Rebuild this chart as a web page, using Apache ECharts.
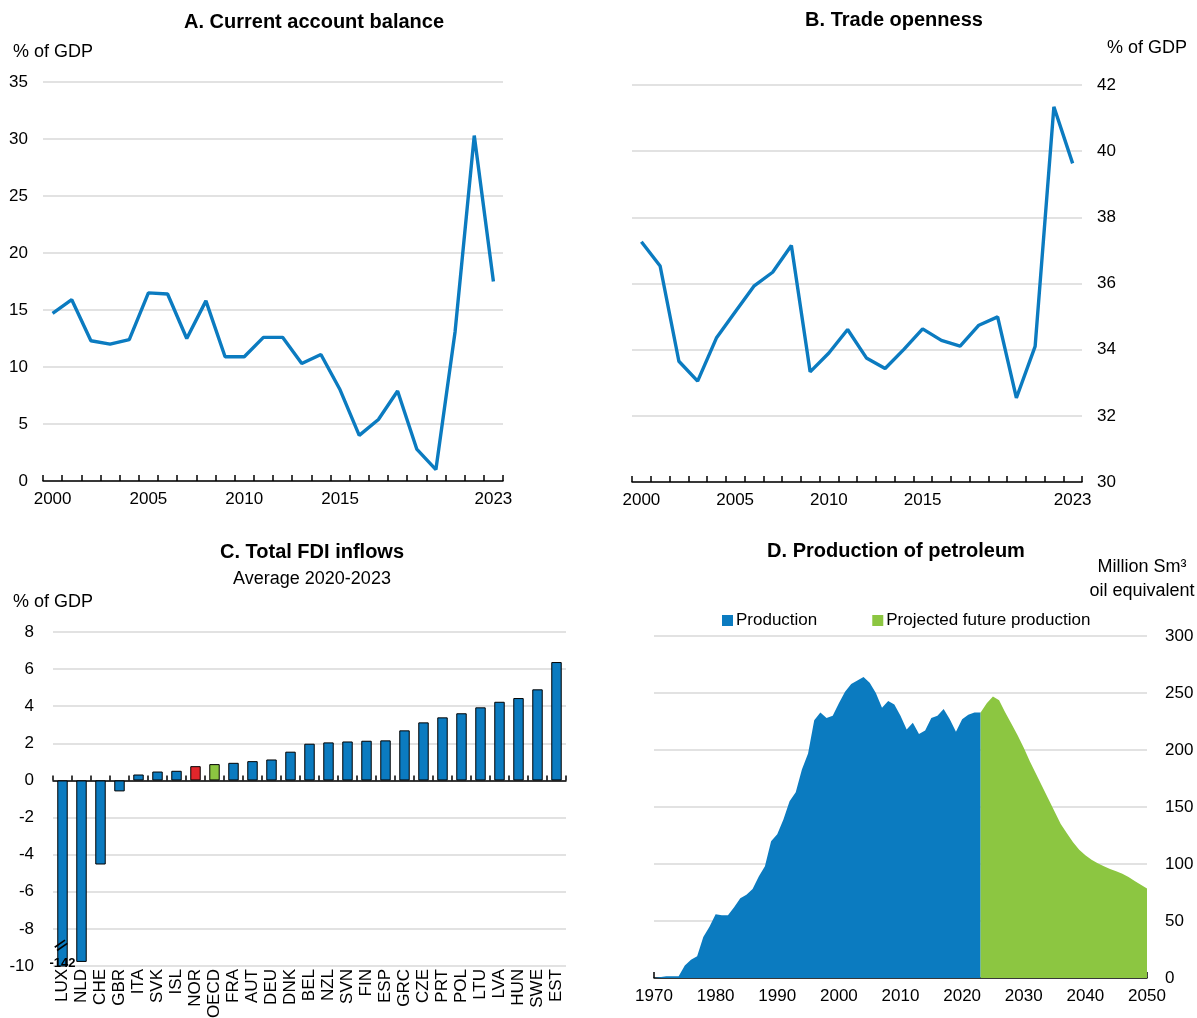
<!DOCTYPE html>
<html>
<head>
<meta charset="utf-8">
<script src="https://cdn.jsdelivr.net/npm/echarts@6/dist/echarts.min.js"></script>
<style>
  html, body { margin: 0; padding: 0; background: #fff; }
  #chart { width: 1197px; height: 1018px; }
</style>
</head>
<body>
<div id="chart"></div>
<script>
// ---- Panel A: current account balance, % of GDP ----
const yearsAB = ['2000','2001','2002','2003','2004','2005','2006','2007','2008','2009','2010','2011',
                 '2012','2013','2014','2015','2016','2017','2018','2019','2020','2021','2022','2023'];
const yearTicksAB = ['2000','2005','2010','2015','2023'];
const currentAccount = [14.7, 15.9, 12.3, 12.0, 12.4, 16.5, 16.4, 12.5, 15.8, 10.9, 10.9, 12.6,
                        12.6, 10.3, 11.1, 8.0, 4.0, 5.4, 7.9, 2.8, 1.0, 13.1, 30.3, 17.5];

// ---- Panel B: trade openness, % of GDP ----
const tradeOpenness = [37.26, 36.53, 33.65, 33.05, 34.35, 35.14, 35.92, 36.34, 37.15, 33.33, 33.90, 34.61,
                       33.75, 33.43, 34.01, 34.63, 34.28, 34.11, 34.74, 34.99, 32.54, 34.10, 41.34, 39.63];

// ---- Panel C: total FDI inflows, average 2020-2023, % of GDP ----
const fdiCountries = ['LUX','NLD','CHE','GBR','ITA','SVK','ISL','NOR','OECD','FRA','AUT','DEU','DNK','BEL','NZL',
                      'SVN','FIN','ESP','GRC','CZE','PRT','POL','LTU','LVA','HUN','SWE','EST'];
const fdiValues = [-142, -9.78, -4.53, -0.59, 0.32, 0.48, 0.52, 0.77, 0.88, 0.95, 1.04, 1.13, 1.55, 1.98, 2.05,
                   2.10, 2.14, 2.16, 2.70, 3.13, 3.40, 3.62, 3.94, 4.24, 4.44, 4.91, 6.38];

// ---- Panel D: production of petroleum, million Sm3 oil equivalent ----
const prodYears = [1970,1972,1974,1975,1976,1977,1978,1979,1980,1981,1982,1983,1984,1985,1986,1987,1988,1989,
                   1990,1991,1992,1993,1994,1995,1996,1997,1998,1999,2000,2001,2002,2003,2004,2005,2006,2007,
                   2008,2009,2010,2011,2012,2013,2014,2015,2016,2017,2018,2019,2020,2021,2022,2023];
const prodValues = [0, 1.5, 1.5, 11, 16, 19, 36, 45, 56, 55, 55, 62, 70, 73, 78, 89, 98, 120,
                    126, 139, 155, 163, 183, 197, 226, 233, 228, 230, 241, 251, 258, 261, 264, 259, 250, 237,
                    243, 240, 230, 218, 224, 214, 217, 228, 230, 236, 227, 216, 227, 231, 233, 233];
const projYears = [2023,2024,2025,2026,2027,2028,2029,2030,2031,2032,2033,2034,2035,2036,2037,2038,2039,
                   2040,2041,2042,2043,2044,2045,2046,2047,2048,2049,2050];
const projValues = [233, 241, 247, 243.6, 233, 223, 213, 202, 190, 179, 168, 157, 146, 135, 127, 119, 112.6,
                    107.6, 103.8, 100.6, 98, 95.6, 93.6, 91.5, 88.6, 85, 81.9, 78.4];

const FONT = "'Liberation Sans', Arial, sans-serif";
const BLUE = '#0b7bc0';
const GREEN = '#8cc641';
const RED = '#e2262b';
const GRID_GRAY = '#d9d9d9';
const tick = { fontFamily: FONT, fontSize: 17, color: '#000' };
const unit = { fontFamily: FONT, fontSize: 18, color: '#000' };
const titleStyle = { fontFamily: FONT, fontSize: 20, fontWeight: 'bold', color: '#000' };

const pairs = (xs, ys) => xs.map((x, i) => [x, ys[i]]);

const chart = echarts.init(document.getElementById('chart'), null, { renderer: 'canvas' });

const catXAxis = (gridIndex) => ({
  type: 'category', gridIndex, data: yearsAB, boundaryGap: true,
  axisLine: { lineStyle: { color: '#000', width: 1.5 } },
  axisTick: { show: true, inside: true, length: 6, interval: 0, lineStyle: { color: '#000', width: 1.5 } },
  axisLabel: { ...tick, margin: 10, interval: (i, v) => yearTicksAB.includes(v) },
  splitLine: { show: false }
});

const option = {
  animation: false,
  backgroundColor: '#fff',
  textStyle: { fontFamily: FONT },
  title: [
    { text: 'A. Current account balance', left: 309, top: 7, textAlign: 'center', textStyle: titleStyle },
    { text: 'B. Trade openness', left: 889, top: 5, textAlign: 'center', textStyle: titleStyle },
    { text: 'C. Total FDI inflows', left: 307, top: 537, textAlign: 'center', textStyle: titleStyle },
    { text: 'Average 2020-2023', left: 307, top: 565, textAlign: 'center',
      textStyle: { fontFamily: FONT, fontSize: 18, fontWeight: 'normal', color: '#000' } },
    { text: 'D. Production of petroleum', left: 891, top: 536, textAlign: 'center', textStyle: titleStyle }
  ],
  legend: {
    left: 717, top: 607, itemWidth: 11, itemHeight: 11, itemGap: 55, icon: 'rect',
    textStyle: { ...tick, padding: [0, 0, 0, -2] },
    data: ['Production', 'Projected future production']
  },
  grid: [
    { left: 43, right: 694, top: 82, bottom: 537, outerBoundsMode: 'none' },
    { left: 632, right: 115, top: 85, bottom: 536, outerBoundsMode: 'none' },
    { left: 53, right: 631, top: 632, bottom: 52, outerBoundsMode: 'none' },
    { left: 654, right: 50, top: 636, bottom: 40, outerBoundsMode: 'none' }
  ],
  xAxis: [
    catXAxis(0),
    catXAxis(1),
    {
      type: 'category', gridIndex: 2, data: fdiCountries,
      axisLine: { onZero: true, lineStyle: { color: '#000', width: 1.5 } },
      axisTick: { show: true, inside: true, length: 5, interval: 0, lineStyle: { color: '#000', width: 1.5 } },
      axisLabel: { show: false }
    },
    {
      type: 'category', gridIndex: 2, data: fdiCountries, position: 'bottom',
      axisLine: { show: false }, axisTick: { show: false },
      axisLabel: { ...tick, rotate: 90, margin: 3, interval: 0 }
    },
    {
      type: 'value', gridIndex: 3, min: 1970, max: 2050, interval: 5,
      axisLine: { lineStyle: { color: '#000', width: 1.5 } },
      axisTick: { show: true, inside: true, length: 6, lineStyle: { color: '#000', width: 1.5 } },
      axisLabel: { ...tick, margin: 10, formatter: (v) => (v % 10 === 0 ? String(v) : '') },
      splitLine: { show: false }
    }
  ],
  yAxis: [
    {
      type: 'value', gridIndex: 0, min: 0, max: 35, interval: 5,
      name: '% of GDP', nameLocation: 'end', nameGap: 21,
      nameTextStyle: { ...unit, align: 'left', padding: [0, 0, 0, -30] },
      axisLine: { show: false }, axisTick: { show: false },
      axisLabel: { ...tick, margin: 15 },
      splitLine: { lineStyle: { color: GRID_GRAY, width: 1.5 } }
    },
    {
      type: 'value', gridIndex: 1, position: 'right', min: 30, max: 42, interval: 2,
      name: '% of GDP', nameLocation: 'end', nameGap: 28,
      nameTextStyle: { ...unit, align: 'right', padding: [0, -105, 0, 0] },
      axisLine: { show: false }, axisTick: { show: false },
      axisLabel: { ...tick, margin: 15 },
      splitLine: { lineStyle: { color: GRID_GRAY, width: 1.5 } }
    },
    {
      type: 'value', gridIndex: 2, min: -10, max: 8, interval: 2,
      name: '% of GDP', nameLocation: 'end', nameGap: 21,
      nameTextStyle: { ...unit, align: 'left', padding: [0, 0, 0, -40] },
      axisLine: { show: false }, axisTick: { show: false },
      axisLabel: { ...tick, margin: 19 },
      splitLine: { lineStyle: { color: GRID_GRAY, width: 1.5 } }
    },
    {
      type: 'value', gridIndex: 3, position: 'right', min: 0, max: 300, interval: 50,
      name: 'Million Sm³\noil equivalent', nameLocation: 'end', nameGap: 33,
      nameTextStyle: { ...unit, align: 'center', lineHeight: 24, padding: [0, 10, 0, 0] },
      axisLine: { show: false }, axisTick: { show: false },
      axisLabel: { ...tick, margin: 18 },
      splitLine: { lineStyle: { color: GRID_GRAY, width: 1.5 } }
    }
  ],
  series: [
    {
      name: 'Current account', type: 'line', xAxisIndex: 0, yAxisIndex: 0,
      data: currentAccount, showSymbol: false, symbol: 'none',
      lineStyle: { color: BLUE, width: 3.4 }, itemStyle: { color: BLUE }
    },
    {
      name: 'Trade openness', type: 'line', xAxisIndex: 1, yAxisIndex: 1,
      data: tradeOpenness, showSymbol: false, symbol: 'none',
      lineStyle: { color: BLUE, width: 3.4 }, itemStyle: { color: BLUE }
    },
    {
      name: 'FDI inflows', type: 'bar', xAxisIndex: 2, yAxisIndex: 2, barWidth: '55%',
      data: fdiCountries.map((c, i) => {
        const item = { value: fdiValues[i] };
        if (c === 'NOR') item.itemStyle = { color: RED };
        if (c === 'OECD') item.itemStyle = { color: GREEN };
        if (c === 'LUX') item.label = {
          show: true, position: 'insideBottom', distance: 1, offset: [0, 4], formatter: '{c}',
          fontFamily: FONT, fontSize: 13, fontWeight: 'bold', color: '#000'
        };
        return item;
      }),
      itemStyle: { color: BLUE, borderColor: '#000', borderWidth: 1 },
      // axis-break marker on the truncated LUX bar
      markPoint: {
        silent: true, symbol: 'rect', symbolSize: 1,
        itemStyle: { color: 'rgba(0,0,0,0)' },
        label: { show: true, position: 'inside', formatter: '=', fontFamily: 'DejaVu Sans', fontSize: 20,
                 color: '#000', rotate: 35, offset: [-1, 0] },
        data: [{ coord: ['LUX', -8.9] }]
      }
    },
    {
      name: 'Production', type: 'line', xAxisIndex: 4, yAxisIndex: 3,
      data: pairs(prodYears, prodValues), showSymbol: false, symbol: 'none',
      lineStyle: { width: 0 }, areaStyle: { color: BLUE, opacity: 1 }, itemStyle: { color: BLUE }
    },
    {
      name: 'Projected future production', type: 'line', xAxisIndex: 4, yAxisIndex: 3,
      data: pairs(projYears, projValues), showSymbol: false, symbol: 'none',
      lineStyle: { width: 0 }, areaStyle: { color: GREEN, opacity: 1 }, itemStyle: { color: GREEN }
    }
  ]
};

chart.setOption(option);
</script>
</body>
</html>
